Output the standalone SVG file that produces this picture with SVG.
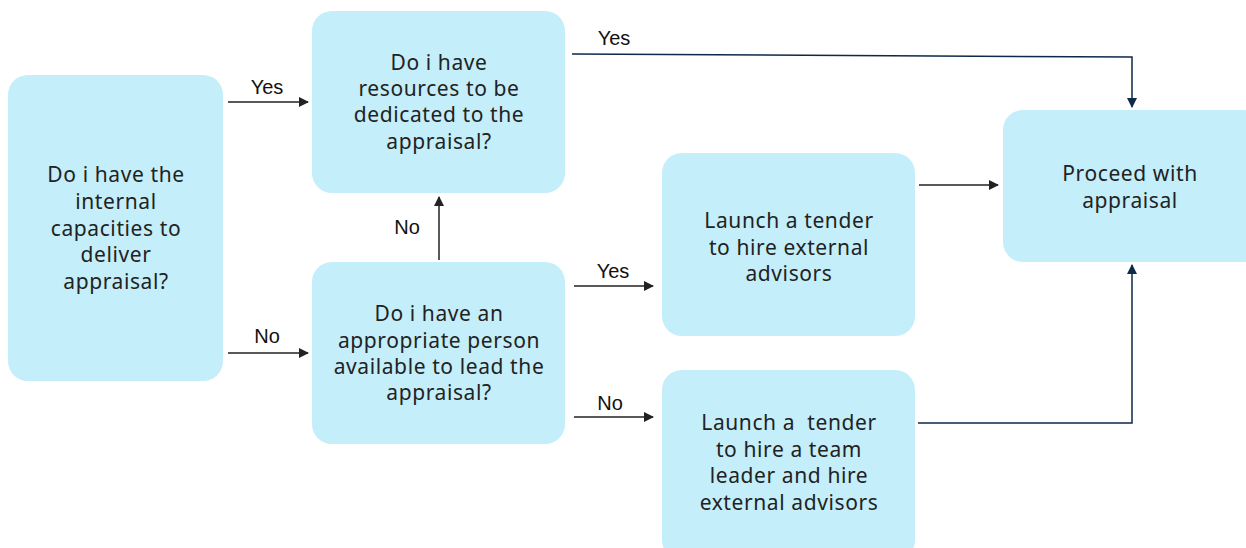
<svg xmlns="http://www.w3.org/2000/svg" width="1246" height="548" viewBox="0 0 1246 548">
<defs>
<style>
.box{fill:#c4eef9;}
.t{font-family:"Noto Sans","DejaVu Sans",sans-serif;font-size:21px;letter-spacing:0.6px;fill:#222;text-anchor:middle;}
.l{font-family:"Liberation Sans",Arial,sans-serif;font-size:20px;fill:#111;text-anchor:middle;}
.k{stroke:#222;stroke-width:1.5;fill:none;}
.n{stroke:#0d2a4a;stroke-width:1.5;fill:none;}
</style>
<marker id="ak" markerWidth="10" markerHeight="10" refX="9" refY="5" orient="auto" markerUnits="userSpaceOnUse"><path d="M0,0 L10,5 L0,10 Z" fill="#222"/></marker>
<marker id="an" markerWidth="10" markerHeight="10" refX="9" refY="5" orient="auto" markerUnits="userSpaceOnUse"><path d="M0,0 L10,5 L0,10 Z" fill="#0d2a4a"/></marker>
</defs>
<rect width="1246" height="548" fill="#fff"/>
<g id="connectors">
<path class="k" d="M228,102 H308" marker-end="url(#ak)"/>
<path class="k" d="M228,353 H308" marker-end="url(#ak)"/>
<path class="k" d="M439,260 V197" marker-end="url(#ak)"/>
<path class="n" d="M572,54 L1132,57 V107" marker-end="url(#an)"/>
<path class="k" d="M919,185 H998" marker-end="url(#ak)"/>
<path class="k" d="M574,286 H653" marker-end="url(#ak)"/>
<path class="k" d="M574,417 H653" marker-end="url(#ak)"/>
<path class="n" d="M918,423 H1132 V265" marker-end="url(#an)"/>
<text class="l" x="267" y="94">Yes</text>
<text class="l" x="267" y="343">No</text>
<text class="l" x="407" y="234">No</text>
<text class="l" x="614" y="45">Yes</text>
<text class="l" x="613" y="278">Yes</text>
<text class="l" x="610" y="410">No</text>
</g>
<g id="n1"><rect class="box" x="8" y="75" width="215" height="306" rx="20"/>
<text class="t"><tspan x="116" y="182">Do i have the</tspan><tspan x="116" y="209">internal</tspan><tspan x="116" y="236">capacities to</tspan><tspan x="116" y="262">deliver</tspan><tspan x="116" y="289">appraisal?</tspan></text></g>
<g id="n2"><rect class="box" x="312" y="11" width="253" height="182" rx="20"/>
<text class="t"><tspan x="439" y="70">Do i have</tspan><tspan x="439" y="96">resources to be</tspan><tspan x="439" y="122">dedicated to the</tspan><tspan x="439" y="149">appraisal?</tspan></text></g>
<g id="n3"><rect class="box" x="312" y="262" width="253" height="182" rx="20"/>
<text class="t"><tspan x="439" y="321">Do i have an</tspan><tspan x="439" y="348">appropriate person</tspan><tspan x="439" y="374">available to lead the</tspan><tspan x="439" y="400">appraisal?</tspan></text></g>
<g id="n4"><rect class="box" x="662" y="153" width="253" height="183" rx="20"/>
<text class="t"><tspan x="789" y="228">Launch a tender</tspan><tspan x="789" y="255">to hire external</tspan><tspan x="789" y="281">advisors</tspan></text></g>
<g id="n5"><rect class="box" x="662" y="370" width="253" height="190" rx="20"/>
<text class="t"><tspan x="789" y="430">Launch a&#160; tender</tspan><tspan x="789" y="457">to hire a team</tspan><tspan x="789" y="483">leader and hire</tspan><tspan x="789" y="510">external advisors</tspan></text></g>
<g id="n6"><rect class="box" x="1003" y="110" width="260" height="152" rx="20"/>
<text class="t"><tspan x="1130" y="181">Proceed with</tspan><tspan x="1130" y="208">appraisal</tspan></text></g>
</svg>
